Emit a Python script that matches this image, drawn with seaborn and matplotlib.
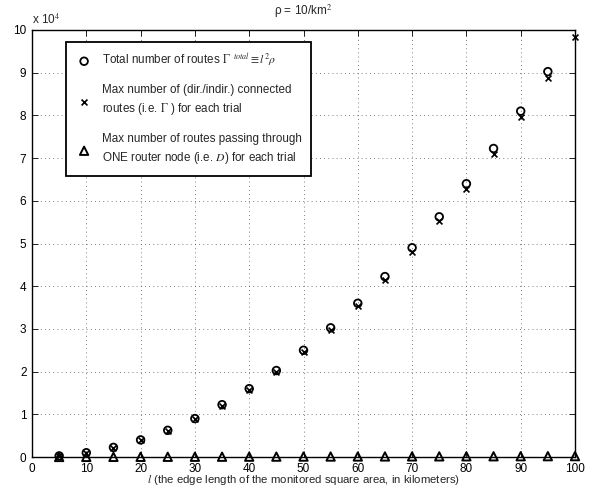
import numpy as np
import pandas as pd
import matplotlib
matplotlib.use("Agg")
import matplotlib.pyplot as plt
import seaborn as sns

# ---- data ----
edge_km = [5, 10, 15, 20, 25, 30, 35, 40, 45, 50, 55, 60, 65, 70, 75, 80, 85, 90, 95, 100]
total_routes = [250, 1000, 2250, 4000, 6250, 9000, 12250, 16000, 20250, 25000,
                30250, 36000, 42250, 49000, 56250, 64000, 72250, 81000, 90250]
connected_routes = [240, 950, 2200, 3950, 6150, 8850, 12000, 15700, 19800, 24500,
                    29700, 35300, 41400, 48100, 55200, 62800, 71000, 79600, 88700, 98300]
router_routes = [10, 20, 30, 40, 50, 60, 70, 80, 90, 100,
                 110, 120, 130, 140, 150, 160, 170, 180, 190, 200]
x_ticks = [0, 10, 20, 30, 40, 50, 60, 70, 80, 90, 100]
y_ticks = [0, 1, 2, 3, 4, 5, 6, 7, 8, 9, 10]

sns.set_style("white")
plt.rcParams['font.family'] = ['Liberation Sans', 'DejaVu Sans']
plt.rcParams['mathtext.fontset'] = 'stix'

fig = plt.figure(figsize=(5.92, 4.88), dpi=100)
ax = fig.add_axes([32/592, 1 - 457/488, 543/592, 427/488])

scale = 1e4
df_t = pd.DataFrame({"l": edge_km[:len(total_routes)], "v": np.array(total_routes) / scale})
df_c = pd.DataFrame({"l": edge_km, "v": np.array(connected_routes) / scale})
df_r = pd.DataFrame({"l": edge_km, "v": np.array(router_routes) / scale})

lab_t = r"Total number of routes $\Gamma^{\ \ total}\equiv l^2\rho$"
lab_c = "Max number of (dir./indir.) connected\nroutes (i.e. $\\Gamma$ ) for each trial"
lab_r = "Max number of routes passing through\nONE router node (i.e. $D$) for each trial"

sns.scatterplot(data=df_t, x="l", y="v", ax=ax, marker="o", s=30,
                facecolors="none", edgecolor="black", linewidth=1.3, label=lab_t, clip_on=False, zorder=3)
sns.scatterplot(data=df_c, x="l", y="v", ax=ax, marker="x", s=18,
                color="black", linewidth=1.2, label=lab_c, clip_on=False, zorder=3)
sns.scatterplot(data=df_r, x="l", y="v", ax=ax, marker="^", s=36,
                facecolors="none", edgecolor="black", linewidth=1.4, label=lab_r, clip_on=False, zorder=3)

ax.set_xlim(0, 100)
ax.set_ylim(0, 10)
ax.set_xticks(x_ticks)
ax.set_yticks(y_ticks)
ax.set_xticklabels([str(t) for t in x_ticks], fontsize=8.5)
ax.set_yticklabels([str(t) for t in y_ticks], fontsize=8.5)
ax.tick_params(direction="in", length=4, width=0.6, top=True, right=True,
               bottom=True, left=True, colors="black")
ax.tick_params(axis="x", pad=4)
ax.tick_params(axis="y", pad=4)
ax.grid(True, linestyle=(0, (1, 4)), color="#555555", linewidth=0.6)
for sp in ax.spines.values():
    sp.set_color("black")
    sp.set_linewidth(1.0)

ax.set_xlabel("$l$ (the edge length of the monitored square area, in kilometers)", fontsize=8.2, labelpad=-1)
ax.set_ylabel("")
ax.set_title("ρ = 10/km$^2$", fontsize=8.5, pad=11)
ax.text(0.0, 1.006, r"x 10$^4$", transform=ax.transAxes, fontsize=8.5, ha="left", va="bottom")

leg = ax.legend(loc="upper left", bbox_to_anchor=((66-32)/543, (457-42)/427), borderaxespad=0,
                prop={"size": 8.4}, frameon=True, fancybox=False, framealpha=1, edgecolor="black",
                labelspacing=1.35, handletextpad=0.8, borderpad=0.85, handlelength=1.4)
leg.get_frame().set_linewidth(1.3)
plt.setp(leg.get_texts(), linespacing=1.45)

fig.savefig("out.png", dpi=100)
